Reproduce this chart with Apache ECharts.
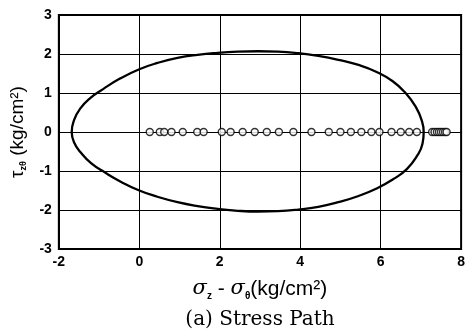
<!DOCTYPE html>
<html>
<head>
<meta charset="utf-8">
<script src="https://cdn.jsdelivr.net/npm/echarts@6/dist/echarts.min.js"></script>
<style>
  html, body { margin: 0; padding: 0; background: #fff; }
  #chart { width: 468px; height: 332px; }
</style>
</head>
<body>
<div id="chart"></div>
<script>
// Axis ticks
const xTicks = [-2, 0, 2, 4, 6, 8];
const yTicks = [-3, -2, -1, 0, 1, 2, 3];

// Failure envelope (sigma_z - sigma_theta, tau_z_theta), traced clockwise from its top
const envelopeX = [2.95, 3.45, 3.95, 4.45, 4.95, 5.45, 5.9, 6.3, 6.62, 6.87, 7.02, 7.07,
                   7.04, 6.9, 6.65, 6.3, 5.9, 5.45, 4.95, 4.45, 3.95, 3.45, 2.95, 2.45, 1.95, 1.45, 0.95, 0.45, 0.0, -0.45, -0.85, -1.2, -1.46, -1.62,
                   -1.68, -1.62, -1.47, -1.22, -0.9, -0.48, 0.0, 0.45, 0.95, 1.45, 1.95, 2.45, 2.95];
const envelopeY = [2.07, 2.06, 2.02, 1.95, 1.85, 1.72, 1.54, 1.30, 1.0, 0.65, 0.3, 0.0,
                   -0.3, -0.62, -0.95, -1.22, -1.45, -1.64, -1.80, -1.92, -1.99, -2.03, -2.04, -2.02, -1.97, -1.90, -1.80, -1.66, -1.50, -1.28, -1.04, -0.8, -0.52, -0.27,
                   0.0, 0.31, 0.6, 0.87, 1.1, 1.37, 1.61, 1.77, 1.90, 1.98, 2.03, 2.06, 2.07];

// Stress path measurements (tau stays at zero)
const pathX = [0.26, 0.51, 0.62, 0.80, 1.08, 1.44, 1.60,
               2.05, 2.27, 2.57, 2.87, 3.17, 3.47, 3.83,
               4.28, 4.71, 5.00, 5.26, 5.52, 5.77, 5.97,
               6.27, 6.50, 6.71, 6.90,
               7.28, 7.34, 7.40, 7.45, 7.50, 7.55, 7.60, 7.64];
const pathY = pathX.map(() => 0);

const envelope = envelopeX.map((x, i) => [x, envelopeY[i]]);
const path = pathX.map((x, i) => [x, pathY[i]]);

const labelFont = { fontFamily: 'Liberation Sans, Arial, sans-serif', fontWeight: 'bold', fontSize: 14, color: '#000' };

const chart = echarts.init(document.getElementById('chart'), null, { renderer: 'canvas' });
chart.setOption({
  animation: false,
  backgroundColor: '#fff',
  title: {
    text: '(a) Stress Path',
    left: 255,
    top: 305,
    textAlign: 'center',
    textStyle: { fontFamily: 'DejaVu Serif, Liberation Serif, serif', fontWeight: 'normal', fontSize: 20, color: '#000' }
  },
  grid: {
    left: 58, right: 6, top: 15, bottom: 83,
    show: true, borderColor: '#000', borderWidth: 2, backgroundColor: 'transparent'
  },
  xAxis: {
    type: 'value',
    min: xTicks[0], max: xTicks[xTicks.length - 1], interval: 2,
    axisLine: { show: true, onZero: false, lineStyle: { color: '#000', width: 2 } },
    axisTick: { show: false },
    splitLine: { show: true, lineStyle: { color: '#000', width: 1 } },
    axisLabel: Object.assign({ margin: 6 }, labelFont),
    name: '{g|σ}{s|z}{t| - }{g|σ}{s|θ}{t|(kg/cm²)}',
    nameLocation: 'middle',
    nameGap: 28,
    nameTextStyle: {
      rich: {
        g: { fontFamily: 'DejaVu Serif, serif', fontStyle: 'italic', fontSize: 21, color: '#000', lineHeight: 24 },
        s: { fontFamily: 'Liberation Sans, Arial, sans-serif', fontWeight: 'bold', fontSize: 10, color: '#000', verticalAlign: 'bottom', lineHeight: 17 },
        t: { fontFamily: 'Liberation Sans, Arial, sans-serif', fontSize: 21, color: '#000', lineHeight: 24 }
      }
    }
  },
  yAxis: {
    type: 'value',
    min: yTicks[0], max: yTicks[yTicks.length - 1], interval: 1,
    axisLine: { show: true, onZero: false, lineStyle: { color: '#000', width: 2 } },
    axisTick: { show: false },
    splitLine: { show: true, lineStyle: { color: '#000', width: 1 } },
    axisLabel: Object.assign({ margin: 7 }, labelFont),
    name: '{t|τ}{s|zθ}{t| (kg/cm²)}',
    nameLocation: 'middle',
    nameGap: 28,
    nameTextStyle: {
      rich: {
        s: { fontFamily: 'Liberation Sans, Arial, sans-serif', fontWeight: 'bold', fontSize: 9, color: '#000', verticalAlign: 'bottom', lineHeight: 16 },
        t: { fontFamily: 'Liberation Sans, Arial, sans-serif', fontSize: 19, color: '#000', lineHeight: 22 }
      }
    }
  },
  series: [
    {
      type: 'line',
      data: envelope,
      smooth: 0.5,
      showSymbol: false,
      lineStyle: { color: '#000', width: 2.3 },
      z: 3
    },
    {
      type: 'scatter',
      data: path,
      symbol: 'circle',
      symbolSize: 7,
      itemStyle: { color: '#fff', borderColor: '#000', borderWidth: 1.4 },
      z: 4
    }
  ]
});
</script>
</body>
</html>
